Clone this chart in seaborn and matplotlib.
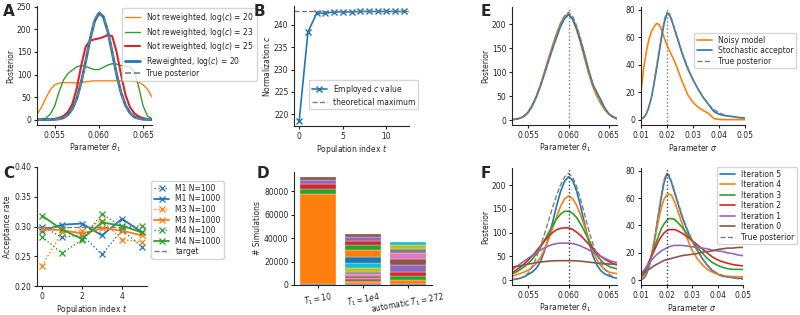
import numpy as np
import pandas as pd
import seaborn as sns
import matplotlib.pyplot as plt
from matplotlib.ticker import FormatStrFormatter

sns.set_style("ticks")
plt.rcParams['font.family'] = ['DejaVu Sans']
plt.rcParams['font.size'] = 5.5
plt.rcParams['axes.labelsize'] = 5.5
plt.rcParams['xtick.labelsize'] = 5.5
plt.rcParams['ytick.labelsize'] = 5.5
plt.rcParams['legend.fontsize'] = 5.5
plt.rcParams['legend.labelspacing'] = 0.2
plt.rcParams['legend.borderpad'] = 0.35
plt.rcParams['axes.linewidth'] = 0.8
plt.rcParams['xtick.major.size'] = 2.5
plt.rcParams['ytick.major.size'] = 2.5
plt.rcParams['xtick.major.pad'] = 1.5
plt.rcParams['ytick.major.pad'] = 1.5
plt.rcParams['axes.labelpad'] = 1.5

C_BLUE, C_ORANGE, C_GREEN, C_RED, C_PURPLE, C_BROWN = sns.color_palette("tab10")[:6]
GREY = "#7f7f7f"

# ---- panel A: reweighting ----
theta_grid = [0.0530, 0.0535, 0.0540, 0.0545, 0.0550, 0.0555, 0.0560, 0.0565, 0.0570,
              0.0575, 0.0580, 0.0585, 0.0590, 0.0595, 0.0600, 0.0605, 0.0610, 0.0615,
              0.0620, 0.0625, 0.0630, 0.0635, 0.0640, 0.0645, 0.0650, 0.0655, 0.0660]
a_logc20 = [12, 27, 48, 66, 77, 81, 82, 82, 82, 81, 82, 84, 85, 86, 86, 86, 86, 86,
            86, 86, 86, 85, 85, 83, 77, 67, 50]
a_logc23 = [0, 0.5, 3, 12, 30, 62, 88, 102, 110, 117, 120, 118, 114, 111, 111, 116, 121,
            124, 123, 120, 118, 117, 108, 72, 30, 8, 2]
a_logc25 = [0, 0, 0, 0.5, 1.5, 4, 8, 17, 35, 70, 120, 162, 175, 178, 180, 183, 188, 185,
            150, 100, 55, 28, 14, 7, 3, 1.5, 0.5]
a_reweighted = [0, 0, 0, 0.1, 0.5, 1.5, 4, 11, 24, 47, 83, 129, 178, 218, 236, 228, 196,
                149, 100, 60, 32, 15, 6, 2.4, 0.8, 0.2, 0]
a_true = [0, 0, 0, 0.1, 0.5, 1.5, 4, 10, 23, 46, 82, 130, 180, 221, 240, 230, 197, 150,
          100, 59, 31, 14, 6, 2.2, 0.7, 0.2, 0]

# ---- panel B: normalization constant ----
b_t = list(range(13))
b_c = [218.6, 238.4, 242.6, 242.6, 242.9, 242.9, 242.9, 243.0, 243.0, 243.0, 243.0, 243.0, 243.0]
b_max = 243.0

# ---- panel C: acceptance rates ----
c_t = [0, 1, 2, 3, 4, 5]
c_m1_100 = [0.300, 0.282, 0.286, 0.253, 0.294, 0.266]
c_m1_1000 = [0.293, 0.303, 0.305, 0.285, 0.313, 0.290]
c_m3_100 = [0.234, 0.290, 0.293, 0.310, 0.278, 0.274]
c_m3_1000 = [0.295, 0.294, 0.288, 0.297, 0.293, 0.285]
c_m4_100 = [0.283, 0.255, 0.278, 0.321, 0.300, 0.301]
c_m4_1000 = [0.318, 0.295, 0.279, 0.307, 0.301, 0.290]
c_target = 0.3

# ---- panel D: simulations per generation ----
d_labels = [r"$T_1 = 10$", r"$T_1 = 1e4$", r"automatic $T_1 = 272$"]
d_sims_t10 = [900, 76400, 4600, 4300, 3300, 2400]
d_sims_t1e4 = [1000, 1200, 1200, 1300, 1400, 1500, 1900, 1900, 3000, 4000, 5500, 5900,
               4100, 3500, 3300, 2700]
d_sims_auto = [1200, 2900, 3500, 3800, 5700, 5400, 4600, 3500, 3800, 2200]

# ---- panel E: noisy model vs stochastic acceptor ----
e_theta_noisy = [1, 2, 4, 9, 17, 31, 50, 73, 100, 128, 155, 180, 202, 217, 222, 210, 188,
                 160, 128, 97, 70, 50, 34, 21, 12, 6, 2]
e_theta_acceptor = [1, 2, 4, 8, 16, 30, 48, 70, 95, 122, 148, 172, 195, 212, 220, 212, 192,
                    165, 135, 103, 75, 58, 42, 25, 13, 7, 4]
theta_true = [1, 2, 4, 8, 15, 28, 47, 70, 96, 124, 152, 178, 200, 217, 225, 217, 197, 170,
              138, 105, 77, 55, 37, 23, 13, 7, 3]

sigma_grid = [0.010, 0.011, 0.012, 0.013, 0.014, 0.015, 0.016, 0.017, 0.018, 0.019, 0.020,
              0.021, 0.022, 0.023, 0.024, 0.026, 0.028, 0.030, 0.032, 0.034, 0.036, 0.038,
              0.040, 0.042, 0.044, 0.046, 0.048, 0.050]
e_sigma_noisy = [20, 37, 49, 58, 64, 67.5, 70, 69, 65, 59, 54, 50, 46, 42, 37, 27, 18, 12.5,
                 9, 6.5, 4.5, 0.8, 0.2, 0, 0, 0, 0, 0]
e_sigma_acceptor = [0.5, 1.5, 4, 9, 16, 26, 37, 49, 61, 71, 77, 76, 71, 65, 59, 47, 37, 29,
                    22, 16, 11, 6, 4, 3, 2.5, 2, 1.5, 1.2]
sigma_true = [0.5, 1.5, 4, 9, 16, 27, 39, 51, 63, 73, 78, 77, 72, 66, 60, 48, 38, 29, 22,
              16, 11, 7.5, 5, 3.5, 2.5, 1.8, 1.2, 0.8]

# ---- panel F: posterior over iterations ----
f_theta = {
    5: [1, 2, 4, 7, 12, 17, 25, 38, 60, 88, 120, 155, 186, 208, 218, 210, 188, 155, 118, 82,
        52, 32, 20, 13, 9, 6, 4],
    4: [8, 11, 14, 17, 21, 27, 35, 47, 64, 85, 108, 132, 155, 171, 177, 172, 158, 137, 112,
        86, 62, 43, 30, 22, 17, 15, 14],
    3: [13, 17, 22, 28, 35, 44, 55, 68, 83, 99, 114, 128, 139, 145, 145, 141, 132, 118, 102,
        85, 68, 53, 42, 34, 29, 26, 24],
    2: [16, 21, 27, 34, 42, 51, 61, 72, 82, 92, 100, 106, 109, 110, 110, 107, 101, 94, 85,
        76, 67, 58, 50, 44, 39, 35, 32],
    1: [22, 28, 34, 40, 46, 52, 58, 63, 68, 72, 75, 77, 78, 78, 78, 77, 75, 72, 68, 64, 59,
        54, 50, 46, 42, 39, 37],
    0: [27, 29, 30, 32, 34, 35, 37, 38, 39, 40, 40.5, 41, 41, 41, 41, 41, 40.5, 40, 39, 38,
        37, 36, 35, 34.5, 34, 33.5, 33],
}
f_sigma = {
    5: [0.5, 1.5, 4, 9, 16, 26, 37, 49, 61, 71, 77, 76, 71, 65, 59, 47, 37, 29, 22, 16, 11,
        7, 4.5, 3, 2.5, 2, 1.5, 1.5],
    4: [2, 3.5, 6, 11, 18, 27, 36, 45, 53, 59, 62, 63, 62, 58, 53, 42, 31, 22, 16, 11.5, 8,
        6, 4.5, 3.5, 3, 2.8, 2.6, 2.5],
    3: [3, 5, 8, 12, 17, 22, 28, 33, 38, 41, 43.5, 45, 45, 44.5, 43, 39, 34, 29, 24, 20, 16,
        13, 11, 9.5, 8.5, 8, 8, 8],
    2: [4, 6, 9, 13, 17, 21, 25, 29, 32, 34.5, 36, 37, 37, 37, 36.5, 34.5, 32, 29, 26, 23,
        20, 17, 15, 13.5, 12.5, 11.5, 11, 10.5],
    1: [5, 7, 9.5, 12, 14.5, 16.5, 18.5, 20, 21.5, 22.5, 23.5, 24.5, 25, 25.5, 25.5, 25.5,
        25, 24.5, 24, 23.5, 23, 22, 21.5, 21, 20, 19.5, 18.5, 18],
    0: [3, 5, 6.5, 8, 9, 10.5, 11.5, 12.5, 13.5, 14.5, 15, 15.5, 16, 16.5, 17, 18, 18.5, 19,
        19.5, 20.5, 21, 21.5, 22.5, 23, 23.5, 23.5, 24, 24],
}
f_colors = {5: C_BLUE, 4: C_ORANGE, 3: C_GREEN, 2: C_RED, 1: C_PURPLE, 0: C_BROWN}


fig = plt.figure(figsize=(8, 3.15), dpi=100)


def px_axes(l, t, r, b):
    return fig.add_axes([l / 800, 1 - b / 315, (r - l) / 800, (b - t) / 315])


def line(ax, x, y, color, lw=1.2, ls='-', label=None, **kw):
    sns.lineplot(x=x, y=y, ax=ax, color=color, linewidth=lw, linestyle=ls, label=label,
                 estimator=None, **kw)


def theta_axis(ax):
    ax.set_xlim(0.053, 0.066)
    ax.set_xticks([0.055, 0.060, 0.065])
    ax.xaxis.set_major_formatter(FormatStrFormatter('%.3f'))
    ax.set_xlabel(r"Parameter $\theta_1$")


def sigma_axis(ax):
    ax.set_xlim(0.01, 0.05)
    ax.set_xticks([0.01, 0.02, 0.03, 0.04, 0.05])
    ax.xaxis.set_major_formatter(FormatStrFormatter('%.2f'))
    ax.set_xlabel(r"Parameter $\sigma$")


# A
axA = px_axes(37, 6, 152, 125)
line(axA, theta_grid, a_logc20, C_ORANGE, 1.0, label=r"Not reweighted, log($c$) = 20")
line(axA, theta_grid, a_logc23, C_GREEN, 1.0, label=r"Not reweighted, log($c$) = 23")
line(axA, theta_grid, a_logc25, C_RED, 1.5, label=r"Not reweighted, log($c$) = 25")
line(axA, theta_grid, a_reweighted, C_BLUE, 2.0, label=r"Reweighted, log($c$) = 20")
line(axA, theta_grid, a_true, GREY, 1.2, '--', label="True posterior")
theta_axis(axA)
axA.set_yticks([0, 50, 100, 150, 200, 250])
axA.set_ylabel("Posterior")
axA.legend(loc='upper left', bbox_to_anchor=(0.74, 0.98), borderaxespad=0)

# B
axB = px_axes(294, 6, 409, 126)
line(axB, b_t, b_c, C_BLUE, 1.2, label=r"Employed $c$ value", marker='x', markersize=4,
     markeredgecolor=C_BLUE, markeredgewidth=1)
axB.axhline(b_max, color=GREY, linestyle='--', linewidth=1, label="theoretical maximum")
axB.set_xticks([0, 5, 10])
axB.set_yticks([220, 225, 230, 235, 240])
axB.set_xlabel(r"Population index $t$")
axB.set_ylabel(r"Normalization $c$")
axB.legend(loc='lower left', bbox_to_anchor=(0.13, 0.14), borderaxespad=0)

# C
axC = px_axes(37, 167, 147, 286)
c_series = [("M1 N=100", c_m1_100, C_BLUE, ':'), ("M1 N=1000", c_m1_1000, C_BLUE, '-'),
            ("M3 N=100", c_m3_100, C_ORANGE, ':'), ("M3 N=1000", c_m3_1000, C_ORANGE, '-'),
            ("M4 N=100", c_m4_100, C_GREEN, ':'), ("M4 N=1000", c_m4_1000, C_GREEN, '-')]
for name, vals, col, ls in c_series:
    line(axC, c_t, vals, col, 1.0 if ls == ':' else 1.3, ls, label=name, marker='x',
         markersize=4, markeredgecolor=col, markeredgewidth=0.9)
axC.axhline(c_target, color=GREY, linestyle='--', linewidth=1, label="target")
axC.set_ylim(0.2, 0.4)
axC.set_yticks([0.20, 0.25, 0.30, 0.35, 0.40])
axC.yaxis.set_major_formatter(FormatStrFormatter('%.2f'))
axC.set_xticks([0, 2, 4])
axC.set_xlabel(r"Population index $t$")
axC.set_ylabel("Acceptance rate")
axC.legend(loc='upper left', bbox_to_anchor=(1.04, 0.88), borderaxespad=0)

# D
axD = px_axes(294, 172, 432, 285)
tab = sns.color_palette("tab10")
for i, sims in enumerate([d_sims_t10, d_sims_t1e4, d_sims_auto]):
    bottoms = np.concatenate([[0], np.cumsum(sims)[:-1]])
    for t, (n, b0) in enumerate(zip(sims, bottoms)):
        axD.bar(i, n, bottom=b0, width=0.8, color=tab[t % 10], edgecolor='white', linewidth=0.2)
axD.set_xticks(range(3))
axD.set_xticklabels(d_labels, rotation=10)
axD.set_yticks([0, 20000, 40000, 60000, 80000])
axD.set_ylabel("# Simulations")

# E
axE1 = px_axes(512, 7, 617, 125)
line(axE1, theta_grid, e_theta_noisy, C_ORANGE, 1.2)
line(axE1, theta_grid, e_theta_acceptor, C_BLUE, 1.2)
line(axE1, theta_grid, theta_true, GREY, 1.0, '--')
axE1.axvline(0.060, color=GREY, linestyle=':', linewidth=1)
theta_axis(axE1)
axE1.set_yticks([0, 50, 100, 150, 200])
axE1.set_ylabel("Posterior")

axE2 = px_axes(641, 7, 745, 125)
line(axE2, sigma_grid, e_sigma_noisy, C_ORANGE, 1.2, label="Noisy model")
line(axE2, sigma_grid, e_sigma_acceptor, C_BLUE, 1.2, label="Stochastic acceptor")
line(axE2, sigma_grid, sigma_true, GREY, 1.0, '--', label="True posterior")
axE2.axvline(0.020, color=GREY, linestyle=':', linewidth=1)
sigma_axis(axE2)
axE2.set_yticks([0, 20, 40, 60, 80])
axE2.legend(loc='upper left', bbox_to_anchor=(0.51, 0.78), borderaxespad=0)

# F
axF1 = px_axes(512, 168, 617, 285)
axF2 = px_axes(641, 168, 743, 285)
for it in [5, 4, 3, 2, 1, 0]:
    line(axF1, theta_grid, f_theta[it], f_colors[it], 1.2)
    line(axF2, sigma_grid, f_sigma[it], f_colors[it], 1.2, label=f"Iteration {it}")
line(axF1, theta_grid, theta_true, GREY, 1.0, '--')
line(axF2, sigma_grid, sigma_true, GREY, 1.0, '--', label="True posterior")
axF1.axvline(0.060, color='#444444', linestyle=':', linewidth=1)
axF2.axvline(0.020, color='#444444', linestyle=':', linewidth=1)
theta_axis(axF1)
sigma_axis(axF2)
axF1.set_yticks([0, 50, 100, 150, 200])
axF2.set_yticks([0, 20, 40, 60, 80])
axF1.set_ylabel("Posterior")
axF2.legend(loc='upper left', bbox_to_anchor=(0.745, 1.01), borderaxespad=0)

for ax in [axA, axB, axC, axD, axE1, axE2, axF1, axF2]:
    sns.despine(ax=ax)

for letter, x, y in [("A", 3, 4), ("B", 254, 4), ("C", 3, 166), ("D", 257, 166),
                     ("E", 481, 4), ("F", 481, 166)]:
    fig.text(x / 800, 1 - y / 315, letter, fontsize=11, fontweight='bold', va='top', ha='left')

fig.savefig("out.png", dpi=100)
